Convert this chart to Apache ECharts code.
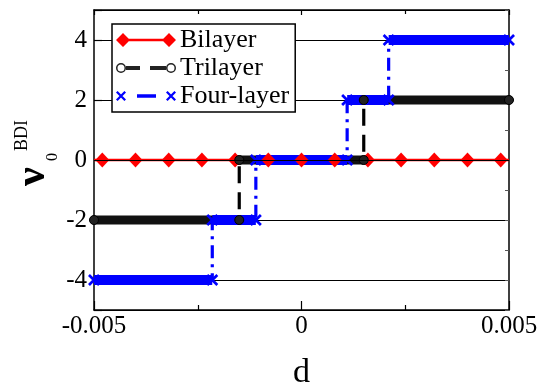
<!DOCTYPE html>
<html>
<head>
<meta charset="utf-8">
<script src="https://cdn.jsdelivr.net/npm/echarts@6/dist/echarts.min.js"></script>
<style>html,body{margin:0;padding:0;background:#fff}#c{width:540px;height:386px}</style>
</head>
<body>
<div id="c"></div>
<script>
// ---- data ----
const dMin = -0.005, dMax = 0.005;
const xTickLabels = ['-0.005', '0', '0.005'];
const yTickLabels = ['-4', '-2', '0', '2', '4'];
const seriesNames = ['Bilayer', 'Trilayer', 'Four-layer'];
// Bilayer: marker positions and values (flat at 0)
const biD = [-0.0048, -0.004, -0.0032, -0.0024, -0.0016, -0.0008, 0, 0.0008, 0.0016, 0.0024, 0.0032, 0.004, 0.0048];
const biV = [0, 0, 0, 0, 0, 0, 0, 0, 0, 0, 0, 0, 0];
const biEnds = [0, 0]; // value at d = dMin and d = dMax
// Trilayer: jump positions and plateau levels
const triJumps = [-0.0015, 0.0015];
const triLevels = [-2, 0, 2];
// Four-layer: jump positions and plateau levels
const fourJumps = [-0.00215, -0.0011, 0.0011, 0.0021];
const fourLevels = [-4, -2, 0, 2, 4];

// ---- helpers building the library tables ----
function stepPoints(jumps, levels) {
  const pts = [[dMin, levels[0]]];
  for (let i = 0; i < jumps.length; i++) {
    pts.push([jumps[i], levels[i]], [jumps[i], levels[i + 1]]);
  }
  pts.push([dMax, levels[levels.length - 1]]);
  return pts;
}
function bandPoints(jumps, levels) {
  const edges = [dMin].concat(jumps, [dMax]);
  const pts = [];
  for (let i = 0; i < levels.length; i++) {
    pts.push([edges[i], levels[i]], [edges[i + 1], levels[i]], '-');
  }
  return pts;
}

const FONT = 'Liberation Serif';
const xMark = 'path://M0,1.6L1.6,0L10,8.4L8.4,10ZM0,8.4L8.4,0L10,1.6L1.6,10Z';
const iconBi = 'path://M0,7L7,0L14,7L7,14ZM46,7L53,0L60,7L53,14ZM7,5.8L53,5.8L53,8.2L7,8.2Z';
const iconTri = 'path://M0,7A5,5,0,1,1,10,7A5,5,0,1,1,0,7ZM1.5,7A3.5,3.5,0,1,0,8.5,7A3.5,3.5,0,1,0,1.5,7Z' +
  'M10,5L24,5L24,9L10,9ZM34,5L50,5L50,9L34,9Z' +
  'M50,7A5,5,0,1,1,60,7A5,5,0,1,1,50,7ZM51.5,7A3.5,3.5,0,1,0,58.5,7A3.5,3.5,0,1,0,51.5,7Z';
const iconFour = 'path://M0,3.6L1.6,2L10,10.4L8.4,12ZM0,10.4L8.4,2L10,3.6L1.6,12Z' +
  'M21,5.3L40,5.3L40,8.7L21,8.7Z' +
  'M50,3.6L51.6,2L60,10.4L58.4,12ZM50,10.4L58.4,2L60,3.6L51.6,12Z';

const chart = echarts.init(document.getElementById('c'), null, {renderer: 'canvas'});

const biData = [{value: [dMin, biEnds[0]], symbol: 'none'}]
  .concat(biD.map((d, i) => [d, biV[i]]))
  .concat([{value: [dMax, biEnds[1]], symbol: 'none'}]);

const option = {
  animation: false,
  backgroundColor: '#fff',
  textStyle: {fontFamily: FONT},
  grid: {left: 94, right: 31, top: 10, bottom: 76, containLabel: false, outerBoundsMode: 'none'},
  legend: {
    orient: 'vertical',
    left: 112, top: 24,
    padding: [3, 6, 3, 4],
    itemGap: 2,
    itemWidth: 60, itemHeight: 14,
    backgroundColor: '#fff',
    borderColor: '#000', borderWidth: 1.5, borderRadius: 0,
    itemStyle: {borderWidth: 0},
    textStyle: {fontFamily: FONT, fontSize: 26, color: '#000', lineHeight: 26, padding: [0, 0, 0, -1]},
    selectedMode: false,
    data: [
      {name: seriesNames[0], icon: iconBi},
      {name: seriesNames[1], icon: iconTri},
      {name: seriesNames[2], icon: iconFour}
    ]
  },
  xAxis: [{
    type: 'value', min: dMin, max: dMax, interval: 0.005,
    name: 'd', nameLocation: 'middle', nameGap: 46,
    nameTextStyle: {fontFamily: FONT, fontSize: 34, color: '#000'},
    axisLine: {onZero: false, lineStyle: {color: '#000', width: 1.5}},
    axisTick: {inside: true, length: 9, lineStyle: {color: '#000', width: 1.2}},
    minorTick: {show: true, splitNumber: 2, length: 5, lineStyle: {color: '#000', width: 1.2}},
    axisLabel: {fontFamily: FONT, fontSize: 25, color: '#000', margin: 4,
      formatter: v => { const s = xTickLabels.find(t => Math.abs(parseFloat(t) - v) < 1e-9); return s === undefined ? '' : s; }},
    splitLine: {show: false}
  }, {
    type: 'value', position: 'top', min: dMin, max: dMax, interval: 0.005,
    axisLine: {onZero: false, lineStyle: {color: '#000', width: 1.5}},
    axisTick: {inside: true, length: 5, lineStyle: {color: '#000', width: 1.2}},
    minorTick: {show: true, splitNumber: 2, length: 4, lineStyle: {color: '#000', width: 1.2}},
    axisLabel: {show: false},
    splitLine: {show: false}
  }],
  yAxis: [{
    type: 'value', min: -5, max: 5, splitNumber: 5,
    axisLine: {onZero: false, lineStyle: {color: '#000', width: 1.5}},
    axisTick: {inside: true, length: 8, lineStyle: {color: '#000', width: 1.2}},
    axisLabel: {fontFamily: FONT, fontSize: 25, color: '#000', margin: 7,
      formatter: v => { const s = yTickLabels.find(t => parseFloat(t) === v); return s === undefined ? '' : s; }},
    splitLine: {show: true, lineStyle: {color: '#000', width: 1}}
  }, {
    type: 'value', position: 'right', min: -5, max: 5, interval: 1,
    axisLine: {onZero: false, lineStyle: {color: '#000', width: 1.5}},
    axisTick: {inside: true, length: 4, lineStyle: {color: '#555', width: 1}},
    axisLabel: {show: false},
    splitLine: {show: false}
  }],
  graphic: [{
    type: 'group', x: 45, y: 186, rotation: Math.PI / 2,
    children: [
      {type: 'text', x: 0, y: -12, style: {text: 'ν', font: 'bold 42px "Liberation Serif"', fill: '#000', textAlign: 'left', textVerticalAlign: 'middle'}},
      {type: 'text', x: 25, y: 8, style: {text: '0', font: '16px "Liberation Serif"', fill: '#000', textAlign: 'left', textVerticalAlign: 'middle'}},
      {type: 'text', x: 35, y: -23, style: {text: 'BDI', font: '18px "Liberation Serif"', fill: '#000', textAlign: 'left', textVerticalAlign: 'middle'}}
    ]
  }],
  series: [
    {
      name: seriesNames[0], type: 'line', data: biData,
      symbol: 'diamond', symbolSize: [14, 15],
      color: '#ff0000',
      lineStyle: {color: '#ff0000', width: 2.5},
      itemStyle: {color: '#ff0000'},
      markLine: {silent: true, symbol: 'none', label: {show: false},
        lineStyle: {color: '#000', width: 1, type: 'solid'}, data: [{yAxis: biEnds[0]}]}
    },
    {
      name: seriesNames[1], type: 'line', data: stepPoints(triJumps, triLevels),
      symbol: 'circle', symbolSize: 9,
      color: '#000',
      lineStyle: {color: '#000', width: 3.2, type: [17, 9]},
      itemStyle: {color: '#222', borderColor: '#000', borderWidth: 1}
    },
    {
      name: 'Trilayer band', type: 'line', data: bandPoints(triJumps, triLevels),
      symbol: 'none', silent: true, legendHoverLink: false,
      lineStyle: {color: '#111', width: 9, cap: 'round'}
    },
    {
      name: seriesNames[2], type: 'line', data: stepPoints(fourJumps, fourLevels),
      symbol: xMark, symbolSize: 12,
      color: '#0000ff',
      lineStyle: {color: '#0000ff', width: 3.2, type: [13, 6, 3, 6]},
      itemStyle: {color: '#0000ff'}
    },
    {
      name: 'Four-layer band', type: 'line', data: bandPoints(fourJumps, fourLevels),
      symbol: 'none', silent: true, legendHoverLink: false,
      lineStyle: {color: '#0000ff', width: 10, cap: 'butt'}
    }
  ]
};
chart.setOption(option);
</script>
</body>
</html>
